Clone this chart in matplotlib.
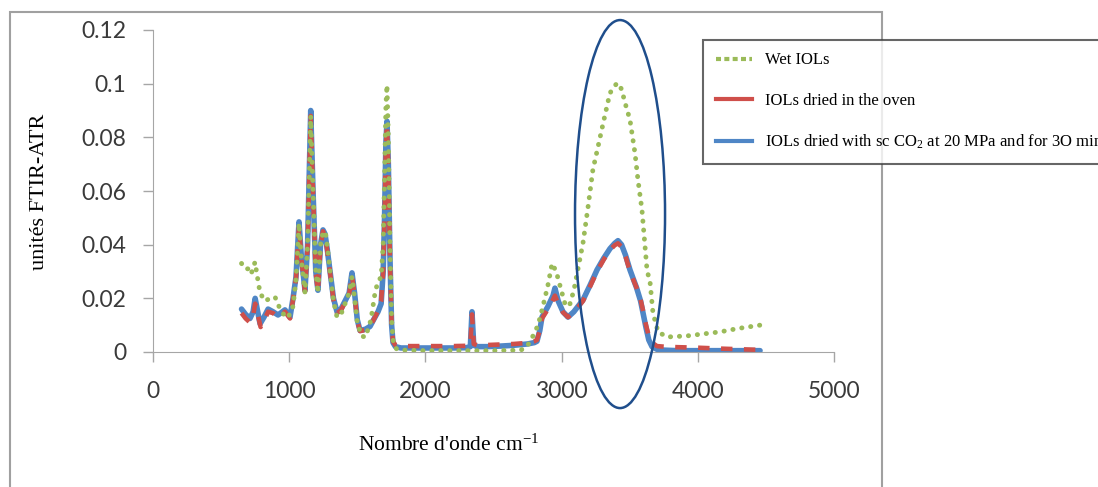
import matplotlib
matplotlib.use("Agg")
import matplotlib.pyplot as plt
from matplotlib.lines import Line2D
from matplotlib.patches import Ellipse, Rectangle

plt.rcParams["mathtext.fontset"] = "custom"
plt.rcParams["mathtext.rm"] = "Liberation Serif"
plt.rcParams["mathtext.it"] = "Liberation Serif:italic"

# wavenumber (cm-1) and FTIR-ATR absorbance
wn_co2 = [650, 680, 712, 735, 750, 765, 786, 815, 845, 881, 918, 969, 1006, 1028, 1050,
          1072, 1090, 1116, 1135, 1158, 1175, 1195, 1211, 1230, 1248, 1263, 1280, 1300,
          1325, 1351, 1380, 1410, 1440, 1461, 1480, 1500, 1520, 1560, 1593, 1630, 1652,
          1675, 1690, 1700, 1710, 1718, 1728, 1740, 1752, 1762, 1780, 1820, 1900, 2000,
          2100, 2200, 2300, 2330, 2342, 2355, 2380, 2450, 2550, 2650, 2750, 2800, 2819,
          2840, 2856, 2900, 2937, 2951, 2975, 3010, 3047, 3090, 3157, 3210, 3260, 3310,
          3355, 3390, 3414, 3440, 3470, 3502, 3550, 3580, 3600, 3620, 3640, 3664, 3700,
          3750, 3850, 4000, 4200, 4457]
abs_co2 = [0.0160, 0.0140, 0.0125, 0.0150, 0.0200, 0.0160, 0.0105, 0.0130, 0.0160, 0.0150,
           0.0138, 0.0157, 0.0130, 0.0200, 0.0280, 0.0485, 0.0350, 0.0230, 0.0400, 0.0900,
           0.0600, 0.0300, 0.0230, 0.0400, 0.0455, 0.0440, 0.0380, 0.0300, 0.0200, 0.0150,
           0.0160, 0.0190, 0.0220, 0.0295, 0.0220, 0.0120, 0.0080, 0.0085, 0.0095, 0.0130,
           0.0150, 0.0180, 0.0300, 0.0500, 0.0780, 0.0860, 0.0700, 0.0350, 0.0100, 0.0035,
           0.0020, 0.0015, 0.0015, 0.0015, 0.0015, 0.0015, 0.0016, 0.0020, 0.0150, 0.0025,
           0.0020, 0.0020, 0.0022, 0.0025, 0.0030, 0.0035, 0.0040, 0.0080, 0.0130, 0.0170,
           0.0210, 0.0238, 0.0190, 0.0150, 0.0130, 0.0150, 0.0194, 0.0250, 0.0306, 0.0350,
           0.0385, 0.0405, 0.0415, 0.0400, 0.0360, 0.0306, 0.0240, 0.0190, 0.0140, 0.0090,
           0.0045, 0.0020, 0.0010, 0.0007, 0.0005, 0.0005, 0.0005, 0.0005]

wn_oven = [650, 680, 712, 735, 750, 765, 790, 815, 845, 881, 918, 969, 1006, 1028, 1050,
           1072, 1090, 1116, 1135, 1158, 1175, 1195, 1211, 1230, 1248, 1263, 1280, 1300,
           1325, 1351, 1380, 1410, 1440, 1461, 1480, 1500, 1520, 1560, 1593, 1630, 1652,
           1675, 1690, 1700, 1710, 1718, 1728, 1740, 1752, 1762, 1780, 1820, 1900, 2000,
           2100, 2200, 2300, 2330, 2342, 2355, 2380, 2450, 2550, 2650, 2750, 2800, 2819,
           2840, 2856, 2900, 2937, 2951, 2975, 3010, 3047, 3090, 3157, 3210, 3260, 3310,
           3355, 3390, 3414, 3440, 3470, 3502, 3550, 3580, 3600, 3620, 3640, 3664, 3700,
           3750, 3850, 4000, 4200, 4457]
abs_oven = [0.0145, 0.0125, 0.0110, 0.0135, 0.0180, 0.0150, 0.0093, 0.0115, 0.0150, 0.0145,
            0.0130, 0.0150, 0.0125, 0.0195, 0.0275, 0.0470, 0.0345, 0.0225, 0.0395, 0.0880,
            0.0590, 0.0295, 0.0225, 0.0395, 0.0450, 0.0435, 0.0375, 0.0295, 0.0195, 0.0145,
            0.0155, 0.0185, 0.0215, 0.0285, 0.0215, 0.0115, 0.0078, 0.0082, 0.0095, 0.0130,
            0.0155, 0.0190, 0.0300, 0.0500, 0.0770, 0.0850, 0.0690, 0.0340, 0.0100, 0.0040,
            0.0025, 0.0022, 0.0022, 0.0022, 0.0022, 0.0022, 0.0023, 0.0025, 0.0140, 0.0030,
            0.0025, 0.0026, 0.0028, 0.0030, 0.0034, 0.0040, 0.0045, 0.0080, 0.0125, 0.0160,
            0.0195, 0.0210, 0.0180, 0.0148, 0.0130, 0.0148, 0.0190, 0.0245, 0.0300, 0.0345,
            0.0380, 0.0398, 0.0405, 0.0392, 0.0355, 0.0300, 0.0240, 0.0195, 0.0150, 0.0100,
            0.0060, 0.0035, 0.0022, 0.0020, 0.0018, 0.0016, 0.0012, 0.0008]

wn_wet = [650, 675, 698, 720, 749, 763, 786, 822, 860, 896, 933, 960, 991, 1010, 1028,
          1050, 1072, 1090, 1116, 1135, 1158, 1175, 1195, 1211, 1230, 1250, 1268, 1285,
          1300, 1325, 1351, 1380, 1410, 1440, 1461, 1480, 1500, 1530, 1560, 1600, 1630,
          1650, 1675, 1690, 1700, 1710, 1718, 1728, 1740, 1752, 1765, 1790, 1850, 2000,
          2300, 2500, 2700, 2746, 2790, 2827, 2863, 2900, 2930, 2960, 3003, 3030, 3062,
          3090, 3113, 3157, 3194, 3230, 3267, 3304, 3355, 3407, 3440, 3465, 3502, 3539,
          3561, 3590, 3627, 3650, 3671, 3708, 3774, 3850, 3920, 4050, 4163, 4300, 4457]
abs_wet = [0.0330, 0.0310, 0.0310, 0.0290, 0.0335, 0.0290, 0.0220, 0.0190, 0.0200, 0.0205,
           0.0160, 0.0140, 0.0127, 0.0150, 0.0170, 0.0270, 0.0480, 0.0340, 0.0220, 0.0400,
           0.0880, 0.0600, 0.0300, 0.0220, 0.0400, 0.0450, 0.0440, 0.0370, 0.0300, 0.0190,
           0.0130, 0.0140, 0.0180, 0.0220, 0.0280, 0.0200, 0.0110, 0.0060, 0.0055, 0.0120,
           0.0220, 0.0260, 0.0280, 0.0400, 0.0650, 0.0920, 0.0995, 0.0800, 0.0400, 0.0120,
           0.0030, 0.0010, 0.0007, 0.0005, 0.0005, 0.0005, 0.0007, 0.0020, 0.0060, 0.0100,
           0.0170, 0.0250, 0.0330, 0.0300, 0.0220, 0.0170, 0.0180, 0.0230, 0.0290, 0.0406,
           0.0540, 0.0680, 0.0764, 0.0850, 0.0965, 0.1003, 0.0980, 0.0930, 0.0865, 0.0740,
           0.0640, 0.0530, 0.0306, 0.0257, 0.0145, 0.0075, 0.0056, 0.0058, 0.0060, 0.0068,
           0.0075, 0.0088, 0.0100]

labels = ["Wet IOLs", "IOLs dried in the oven",
          "IOLs dried with sc CO$_2$ at 20 MPa and for 3O min"]
green, red, blue = "#9bbb59", "#cf4f4a", "#4f86c6"

fig = plt.figure(figsize=(10.98, 4.87), dpi=100)
ax = fig.add_axes([153 / 1098, 1 - 352 / 487, (834 - 153) / 1098, (352 - 30) / 487])

ax.plot(wn_co2, abs_co2, color=blue, lw=4.0, solid_capstyle="round", zorder=2)
ax.plot(wn_oven, abs_oven, color=red, lw=3.3, linestyle=(0, (2.5, 2.5)), zorder=3)
ax.plot(wn_wet, abs_wet, color=green, lw=3.5, linestyle=(0, (0.05, 1.8)),
        dash_capstyle="round", zorder=4)

ell = Ellipse((3429, 0.0514), width=661, height=0.1446, fill=False,
              edgecolor="#1f4e8c", lw=1.8, clip_on=False, zorder=5)
ax.add_patch(ell)

ax.set_xlim(0, 5000)
ax.set_ylim(0, 0.12)
ax.set_xticks([0, 1000, 2000, 3000, 4000, 5000])
ax.set_yticks([0, 0.02, 0.04, 0.06, 0.08, 0.1, 0.12])
ax.set_yticklabels(["0", "0.02", "0.04", "0.06", "0.08", "0.1", "0.12"])
for s in ["top", "right"]:
    ax.spines[s].set_visible(False)
for s in ["left", "bottom"]:
    ax.spines[s].set_color("#a6a6a6")
ax.tick_params(colors="#a6a6a6", length=7, width=1, labelcolor="#3a3a3a",
               labelsize=16.5)
ax.tick_params(axis="x", pad=14)
ax.tick_params(axis="y", pad=12)
for lab in ax.get_xticklabels() + ax.get_yticklabels():
    lab.set_family("Lato")

fig.text(40 / 1098, 1 - 192 / 487, "unités FTIR-ATR", rotation=90, ha="center",
         va="center", family="Liberation Serif", fontsize=16)
fig.text(449 / 1098, 1 - 445 / 487, "Nombre d'onde cm$^{-1}$", ha="center",
         va="center", family="Liberation Serif", fontsize=15.5)

fig.patches.append(Rectangle((10 / 1098, -0.05), 872 / 1098, 1.05 - 12 / 487,
                             transform=fig.transFigure, fill=False,
                             edgecolor="#a0a0a0", lw=1.5))

handles = [Line2D([], [], color=green, lw=3, linestyle=(0, (1.2, 0.8))),
           Line2D([], [], color=red, lw=3),
           Line2D([], [], color=blue, lw=3)]
leg = fig.legend(handles, labels, loc="upper left",
                 bbox_to_anchor=(703 / 1098, 1 - 40 / 487),
                 prop={"family": "Liberation Serif", "size": 12},
                 frameon=True, fancybox=False, edgecolor="#404040",
                 labelspacing=1.45, borderpad=0.75, handlelength=2.2,
                 handletextpad=0.75, borderaxespad=0)
leg.get_frame().set_linewidth(1.5)

fig.savefig("out.png", dpi=100)
